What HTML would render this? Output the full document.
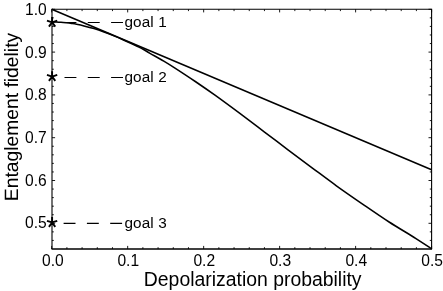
<!DOCTYPE html><html><head><meta charset="utf-8"><style>html,body{margin:0;padding:0;background:#fff}svg{display:block;will-change:transform;filter:grayscale(1)}text{font-family:"Liberation Sans",sans-serif;fill:#000}</style></head><body>
<svg width="443" height="291" viewBox="0 0 443 291">
<rect width="443" height="291" fill="#fff"/>
<path d="M52.0 249.0V9.3H431.6V249.0" fill="none" stroke="#000" stroke-width="1.1"/>
<path d="M51.55 249.0H432.05" fill="none" stroke="#000" stroke-width="1.3"/>
<path d="M51.70 249.0v-3.1M51.70 9.3v3.1M66.90 249.0v-1.8M66.90 9.3v1.8M82.09 249.0v-1.8M82.09 9.3v1.8M97.29 249.0v-1.8M97.29 9.3v1.8M112.48 249.0v-1.8M112.48 9.3v1.8M127.68 249.0v-3.1M127.68 9.3v3.1M142.88 249.0v-1.8M142.88 9.3v1.8M158.07 249.0v-1.8M158.07 9.3v1.8M173.27 249.0v-1.8M173.27 9.3v1.8M188.46 249.0v-1.8M188.46 9.3v1.8M203.66 249.0v-3.1M203.66 9.3v3.1M218.86 249.0v-1.8M218.86 9.3v1.8M234.05 249.0v-1.8M234.05 9.3v1.8M249.25 249.0v-1.8M249.25 9.3v1.8M264.44 249.0v-1.8M264.44 9.3v1.8M279.64 249.0v-3.1M279.64 9.3v3.1M294.84 249.0v-1.8M294.84 9.3v1.8M310.03 249.0v-1.8M310.03 9.3v1.8M325.23 249.0v-1.8M325.23 9.3v1.8M340.42 249.0v-1.8M340.42 9.3v1.8M355.62 249.0v-3.1M355.62 9.3v3.1M370.82 249.0v-1.8M370.82 9.3v1.8M386.01 249.0v-1.8M386.01 9.3v1.8M401.21 249.0v-1.8M401.21 9.3v1.8M416.40 249.0v-1.8M416.40 9.3v1.8M431.60 249.0v-3.1M431.60 9.3v3.1M52.0 240.42h1.8M431.6 240.42h-1.8M52.0 231.86h1.8M431.6 231.86h-1.8M52.0 223.30h3.1M431.6 223.30h-3.1M52.0 214.74h1.8M431.6 214.74h-1.8M52.0 206.18h1.8M431.6 206.18h-1.8M52.0 197.62h1.8M431.6 197.62h-1.8M52.0 189.06h1.8M431.6 189.06h-1.8M52.0 180.50h3.1M431.6 180.50h-3.1M52.0 171.94h1.8M431.6 171.94h-1.8M52.0 163.38h1.8M431.6 163.38h-1.8M52.0 154.82h1.8M431.6 154.82h-1.8M52.0 146.26h1.8M431.6 146.26h-1.8M52.0 137.70h3.1M431.6 137.70h-3.1M52.0 129.14h1.8M431.6 129.14h-1.8M52.0 120.58h1.8M431.6 120.58h-1.8M52.0 112.02h1.8M431.6 112.02h-1.8M52.0 103.46h1.8M431.6 103.46h-1.8M52.0 94.90h3.1M431.6 94.90h-3.1M52.0 86.34h1.8M431.6 86.34h-1.8M52.0 77.78h1.8M431.6 77.78h-1.8M52.0 69.22h1.8M431.6 69.22h-1.8M52.0 60.66h1.8M431.6 60.66h-1.8M52.0 52.10h3.1M431.6 52.10h-3.1M52.0 43.54h1.8M431.6 43.54h-1.8M52.0 34.98h1.8M431.6 34.98h-1.8M52.0 26.42h1.8M431.6 26.42h-1.8M52.0 17.86h1.8M431.6 17.86h-1.8M52.0 9.30h3.1M431.6 9.30h-3.1" stroke="#000" stroke-width="0.9" fill="none"/>
<text x="52.80" y="265.6" font-size="15.6" text-anchor="middle">0.0</text>
<text x="128.28" y="265.6" font-size="15.6" text-anchor="middle">0.1</text>
<text x="204.26" y="265.6" font-size="15.6" text-anchor="middle">0.2</text>
<text x="280.24" y="265.6" font-size="15.6" text-anchor="middle">0.3</text>
<text x="356.22" y="265.6" font-size="15.6" text-anchor="middle">0.4</text>
<text x="432.20" y="265.6" font-size="15.6" text-anchor="middle">0.5</text>
<text x="46.7" y="228.30" font-size="15.6" text-anchor="end">0.5</text>
<text x="46.7" y="185.90" font-size="15.6" text-anchor="end">0.6</text>
<text x="46.7" y="143.10" font-size="15.6" text-anchor="end">0.7</text>
<text x="46.7" y="100.10" font-size="15.6" text-anchor="end">0.8</text>
<text x="46.7" y="57.70" font-size="15.6" text-anchor="end">0.9</text>
<text x="46.7" y="14.70" font-size="15.6" text-anchor="end">1.0</text>
<text x="252.7" y="286.3" font-size="19.4" text-anchor="middle">Depolarization probability</text>
<text transform="translate(18.0,117.0) rotate(-89.95)" font-size="19.3" text-anchor="middle">Entaglement fidelity</text>
<path d="M51.70 9.30L431.60 169.80" stroke="#000" stroke-width="1.55" fill="none"/>
<path d="M51.90 21.90C52.58 21.92 54.48 21.93 56.00 22.00C57.52 22.07 59.28 22.16 61.00 22.30C62.72 22.44 64.55 22.65 66.30 22.85C68.05 23.05 69.78 23.26 71.50 23.50C73.22 23.74 74.52 23.90 76.60 24.30C78.68 24.70 81.10 25.18 84.00 25.90C86.90 26.62 90.67 27.58 94.00 28.60C97.33 29.62 100.67 30.78 104.00 32.00C107.33 33.22 110.67 34.53 114.00 35.90C117.33 37.27 120.67 38.73 124.00 40.20C127.33 41.67 131.33 43.46 134.00 44.70C136.67 45.94 138.33 46.80 140.00 47.65C141.67 48.50 142.33 48.86 144.00 49.80C145.67 50.74 146.70 51.42 150.00 53.30C153.30 55.18 159.63 58.63 163.80 61.10C167.97 63.57 169.75 64.70 175.00 68.10C180.25 71.50 188.63 76.98 195.30 81.50C201.97 86.02 207.52 89.83 215.00 95.20C222.48 100.57 232.00 107.60 240.20 113.70C248.40 119.80 256.23 125.78 264.20 131.80C272.17 137.82 280.02 143.80 288.00 149.80C295.98 155.80 304.03 161.80 312.10 167.80C320.17 173.80 328.05 179.80 336.40 185.80C344.75 191.80 353.42 197.77 362.20 203.80C370.98 209.83 380.13 216.21 389.10 222.00C398.07 227.79 408.92 234.07 416.00 238.55C423.08 243.03 429.00 247.18 431.60 248.90" stroke="#000" stroke-width="1.55" fill="none" stroke-linejoin="round"/>
<path d="M123.0 22.5H51.7" stroke="#000" stroke-width="1.2" stroke-dasharray="11.9 11.4" fill="none"/>
<text x="124.5" y="27.2" font-size="15.3" letter-spacing="0.1">goal 1</text>
<path d="M52.1 22.30L52.10 16.90M52.1 22.30L57.24 20.63M52.1 22.30L55.27 26.67M52.1 22.30L48.93 26.67M52.1 22.30L46.96 20.63" stroke="#000" stroke-width="1.9" fill="none"/>
<path d="M123.0 77.5H51.7" stroke="#000" stroke-width="1.2" stroke-dasharray="11.9 11.4" fill="none"/>
<text x="124.5" y="82.3" font-size="15.3" letter-spacing="0.1">goal 2</text>
<path d="M52.1 76.55L52.10 71.15M52.1 76.55L57.24 74.88M52.1 76.55L55.27 80.92M52.1 76.55L48.93 80.92M52.1 76.55L46.96 74.88" stroke="#000" stroke-width="1.9" fill="none"/>
<path d="M122.1 223.3H51.7" stroke="#000" stroke-width="1.2" stroke-dasharray="11.9 11.4" fill="none"/>
<text x="124.5" y="227.8" font-size="15.3" letter-spacing="0.1">goal 3</text>
<path d="M52.1 222.45L52.10 217.05M52.1 222.45L57.24 220.78M52.1 222.45L55.27 226.82M52.1 222.45L48.93 226.82M52.1 222.45L46.96 220.78" stroke="#000" stroke-width="1.9" fill="none"/>
</svg></body></html>
